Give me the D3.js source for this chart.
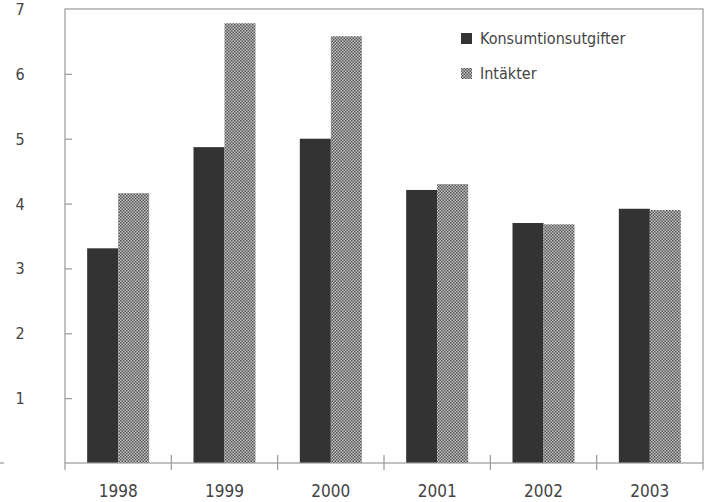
<!DOCTYPE html>
<html><head><meta charset="utf-8">
<script src="https://cdn.jsdelivr.net/npm/d3@7"></script>
<style>
html,body{margin:0;padding:0;background:#fff;}
text{font-family:"Liberation Sans Narrow","DejaVu Sans Condensed","Roboto Condensed",sans-serif;fill:#444;}
</style></head>
<body>
<script>
const categories = ["1998","1999","2000","2001","2002","2003"];
const seriesNames = ["Konsumtionsutgifter","Intäkter"];
const konsumtion = [3.31, 4.87, 5.0, 4.21, 3.70, 3.92];
const intakter = [4.16, 6.78, 6.58, 4.30, 3.68, 3.90];
const yTicks = [1,2,3,4,5,6,7];

const W = 708, H = 502;
const m = {left:65, right:5, top:9, bottom:39};
const svg = d3.select("body").append("svg").attr("width",W).attr("height",H);

const defs = svg.append("defs");
const pat = defs.append("pattern").attr("id","checker").attr("patternUnits","userSpaceOnUse")
  .attr("width",3).attr("height",3);
pat.append("rect").attr("width",3).attr("height",3).attr("fill","#c4c4c4");
pat.append("rect").attr("width",1.5).attr("height",1.5).attr("fill","#555");
pat.append("rect").attr("x",1.5).attr("y",1.5).attr("width",1.5).attr("height",1.5).attr("fill","#555");

const x = d3.scaleBand().domain(categories).range([m.left, W-m.right]);
const y = d3.scaleLinear().domain([0,7]).range([H-m.bottom, m.top]);
const barW = 31;

const data = categories.map((c,i)=>({c, k:konsumtion[i], n:intakter[i]}));
const g = svg.append("g");
g.selectAll(".k").data(data).join("rect")
  .attr("x", d=>x(d.c)+x.bandwidth()/2-barW).attr("width",barW)
  .attr("y", d=>y(d.k)).attr("height", d=>y(0)-y(d.k)).attr("fill","#333");
g.selectAll(".n").data(data).join("rect")
  .attr("x", d=>x(d.c)+x.bandwidth()/2).attr("width",barW)
  .attr("y", d=>y(d.n)).attr("height", d=>y(0)-y(d.n)).attr("fill","url(#checker)");

// frame
const stroke = "#999";
svg.append("rect").attr("x",m.left).attr("y",m.top).attr("width",W-m.right-m.left).attr("height",y(0)-m.top)
  .attr("fill","none").attr("stroke",stroke).attr("stroke-width",1.2);

// y axis
const yAxis = d3.axisLeft(y).tickValues(yTicks.filter(t=>t<7)).tickSize(-7).tickFormat("");
const ya = svg.append("g").attr("transform",`translate(${m.left},0)`).call(yAxis);
ya.select(".domain").remove();
ya.selectAll("line").attr("stroke",stroke).attr("stroke-width",1.2);
svg.selectAll(".ylab").data(yTicks).join("text")
  .attr("x",20).attr("y",d=>y(d)+6).attr("text-anchor","middle")
  .style("font-size","16px").text(d=>d);
svg.append("line").attr("x1",0).attr("x2",4).attr("y1",y(0)).attr("y2",y(0)).attr("stroke",stroke).attr("stroke-width",1.2);

// x axis
const bounds = categories.map(c=>x(c)).concat([x.range()[1]]);
svg.selectAll(".xt").data(bounds).join("line")
  .attr("x1",d=>d).attr("x2",d=>d).attr("y1",(d,i)=> (i===0||i===bounds.length-1)? y(0): y(0)-8).attr("y2",y(0)+7)
  .attr("stroke",stroke).attr("stroke-width",1.2);
svg.selectAll(".xlab").data(categories).join("text")
  .attr("x",d=>x(d)+x.bandwidth()/2).attr("y",H-5).attr("text-anchor","middle")
  .style("font-size","17px").text(d=>d);

// legend
const lg = svg.append("g");
const fills = ["#333","url(#checker)"];
seriesNames.forEach((s,i)=>{
  const yy = 33 + i*35;
  lg.append("rect").attr("x",461).attr("y",yy).attr("width",11).attr("height",11).attr("fill",fills[i]);
  lg.append("text").attr("x",480).attr("y",yy+11).style("font-size","16px").text(s);
});
</script>
</body></html>
